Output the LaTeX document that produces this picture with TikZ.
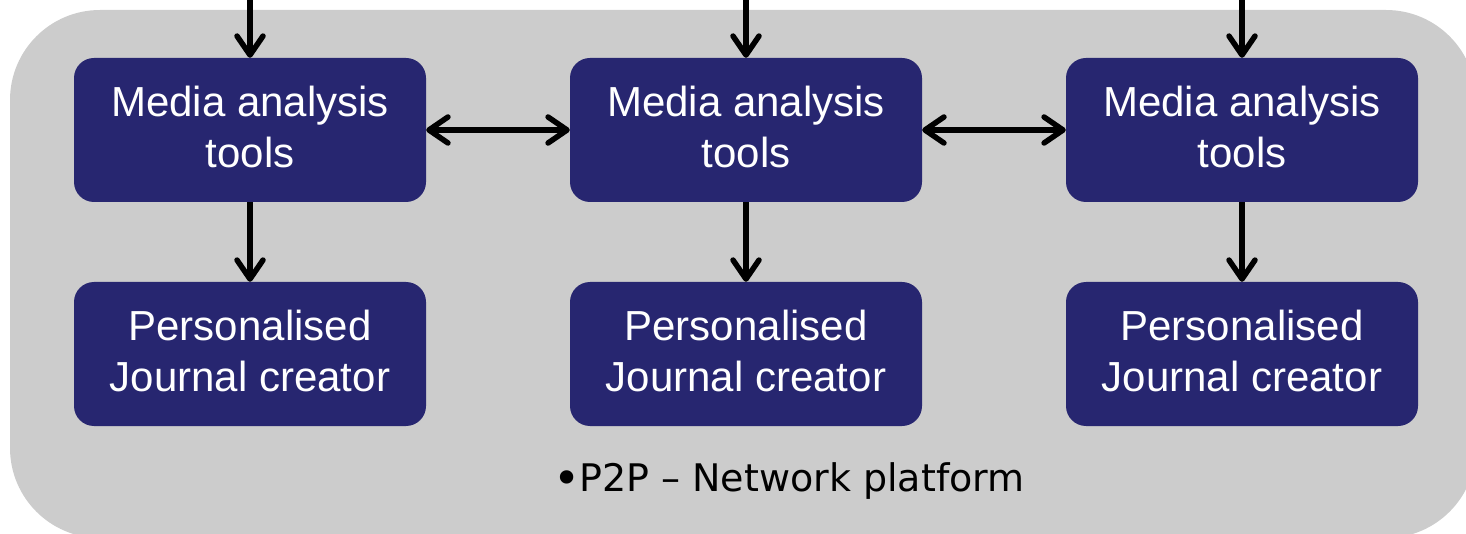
\documentclass[tikz,border=0pt]{standalone}
\usepackage{fontspec}
\setmainfont{Liberation Sans}
\newfontfamily\labelfont{DejaVu Sans}
\usetikzlibrary{arrows.meta}
\definecolor{platformgray}{RGB}{204,204,204}
\definecolor{toolnavy}{RGB}{39,38,112}
\tikzset{
  toolbox/.style={fill=toolnavy, rounded corners=20pt, minimum width=352pt, minimum height=144pt,
    inner sep=0pt},
  boxtext/.style={text=white, align=center, inner sep=0pt,
    font=\fontsize{42}{51}\selectfont},
  barb/.tip={Straight Barb[length=19pt,width=26pt,line cap=round,line join=round]},
  flow/.style={line width=5.5pt, -barb},
  link/.style={line width=5.5pt, barb-barb}
}
\begin{document}
\begin{tikzpicture}[x=1pt,y=-1pt]
  \useasboundingbox (0,0) rectangle (1466,534);
  \clip (0,0) rectangle (1466,534);
  % platform background
  \fill[platformgray, rounded corners=90pt] (10,10) rectangle (1476,538);
  % analysis tools and journal creators
  \foreach \i/\x in {1/250, 2/746, 3/1242} {
    \node[toolbox] (m\i) at (\x,130) {};
    \node[toolbox] (p\i) at (\x,354) {};
    \node[boxtext] (mt\i) at ([yshift=3pt]m\i.center) {Media analysis\\tools};
    \node[boxtext] (pt\i) at ([yshift=3pt]p\i.center) {Personalised\\Journal creator};
    \coordinate (in\i) at (\x,-8);
    \draw[flow] (in\i) -- (m\i.north);
    \draw[flow] (m\i.south) -- (p\i.north);
  }
  \draw[link] (m1.east) -- (m2.west);
  \draw[link] (m2.east) -- (m3.west);
  \node[font=\labelfont\fontsize{38}{44}\selectfont, text=black, inner sep=0pt] (label) at (789,481)
    {\raisebox{-3pt}{\fontsize{46}{46}\selectfont\textbullet}\kern-1ptP2P – Network platform};
\end{tikzpicture}
\end{document}
